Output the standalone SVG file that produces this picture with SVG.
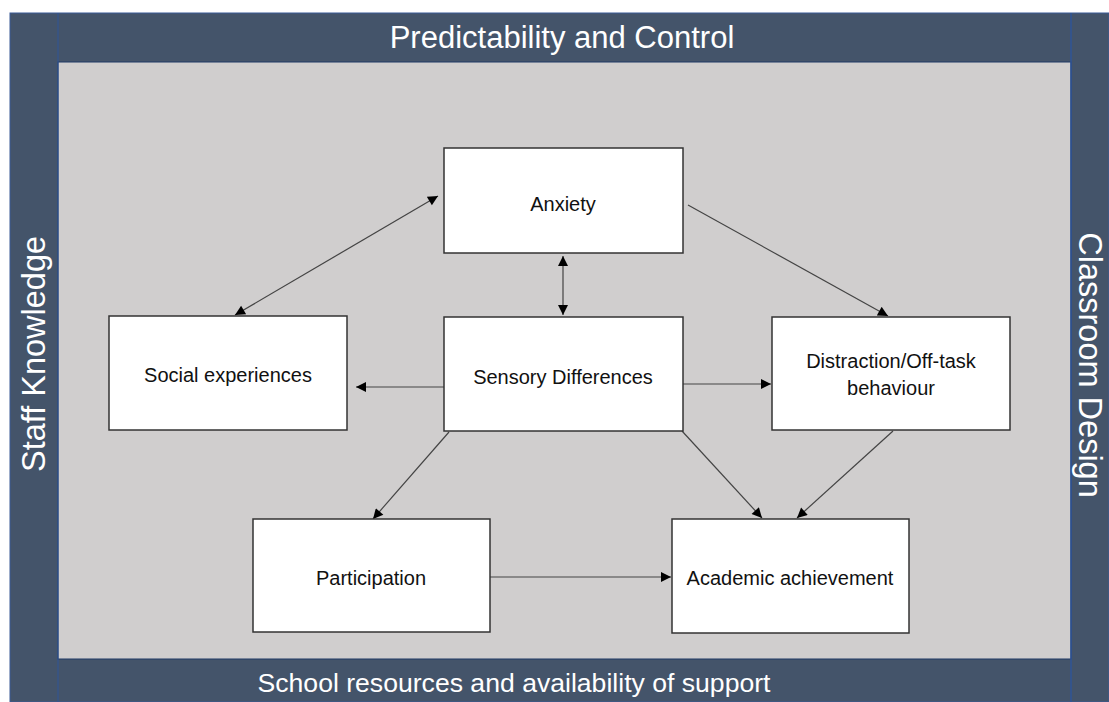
<svg xmlns="http://www.w3.org/2000/svg" width="1109" height="702" viewBox="0 0 1109 702">
<style>
.band{fill:#44546a}
.bt{font-family:"Liberation Sans",Arial,sans-serif;fill:#ffffff;text-anchor:middle}
.box{fill:#ffffff;stroke:#333333;stroke-width:1.5}
.nt{font-family:"Liberation Sans",Arial,sans-serif;font-size:20px;fill:#111111;text-anchor:middle}
.c{stroke:#444444;stroke-width:1.2;fill:none;marker-end:url(#ah)}
.cb{stroke:#444444;stroke-width:1.2;fill:none;marker-end:url(#ah);marker-start:url(#as)}
</style>
<defs>
<marker id="ah" viewBox="0 0 10 10" refX="10" refY="5" markerWidth="12" markerHeight="10" markerUnits="userSpaceOnUse" orient="auto"><path d="M0,0 L10,5 L0,10 z" fill="#000"/></marker>
<marker id="as" viewBox="0 0 10 10" refX="0" refY="5" markerWidth="12" markerHeight="10" markerUnits="userSpaceOnUse" orient="auto"><path d="M10,0 L0,5 L10,10 z" fill="#000"/></marker>
</defs>
<rect width="1109" height="702" fill="#ffffff"/>
<g id="frame">
<rect class="band" x="10" y="13" width="1099" height="689"/>
<rect x="10" y="13" width="1099" height="689" fill="none" stroke="#3a5a96" stroke-width="1"/>
<rect x="58" y="62" width="1013" height="597" fill="#d0cece" stroke="#1f3864" stroke-width="1"/>
<line x1="1071" y1="13" x2="1071" y2="702" stroke="#2f5597" stroke-width="1.5"/>
<line x1="58" y1="13" x2="58" y2="702" stroke="#2f5597" stroke-width="1"/>
<text class="bt" x="562" y="48" font-size="31">Predictability and Control</text>
<text class="bt" x="514" y="692" font-size="26.6">School resources and availability of support</text>
<text class="bt" font-size="32.5" transform="translate(45,354) rotate(-90)">Staff Knowledge</text>
<text class="bt" font-size="32.5" transform="translate(1079,365) rotate(90)">Classroom Design</text>
</g>
<g id="connectors">
<line class="cb" x1="235" y1="315" x2="438" y2="196"/>
<line class="cb" x1="563" y1="256" x2="563" y2="315"/>
<line class="c" x1="688" y1="205" x2="888" y2="316"/>
<line class="c" x1="444" y1="387" x2="356" y2="387"/>
<line class="c" x1="683" y1="384" x2="771" y2="384"/>
<line class="c" x1="449" y1="432" x2="373" y2="519"/>
<line class="c" x1="682" y1="431" x2="762" y2="518"/>
<line class="c" x1="893" y1="431" x2="797" y2="518"/>
<line class="c" x1="490" y1="577" x2="671" y2="577"/>
</g>
<g id="anxiety"><rect class="box" x="444" y="148" width="239" height="105"/><text class="nt" x="563" y="211">Anxiety</text></g>
<g id="sensory"><rect class="box" x="444" y="317" width="239" height="114"/><text class="nt" x="563" y="384">Sensory Differences</text></g>
<g id="social"><rect class="box" x="109" y="316" width="238" height="114"/><text class="nt" x="228" y="382">Social experiences</text></g>
<g id="distraction"><rect class="box" x="772" y="317" width="238" height="113"/><text class="nt" x="891" y="368">Distraction/Off-task</text><text class="nt" x="891" y="395">behaviour</text></g>
<g id="participation"><rect class="box" x="253" y="519" width="237" height="113"/><text class="nt" x="371" y="585">Participation</text></g>
<g id="academic"><rect class="box" x="672" y="519" width="237" height="114"/><text class="nt" x="790" y="585">Academic achievement</text></g>
</svg>
